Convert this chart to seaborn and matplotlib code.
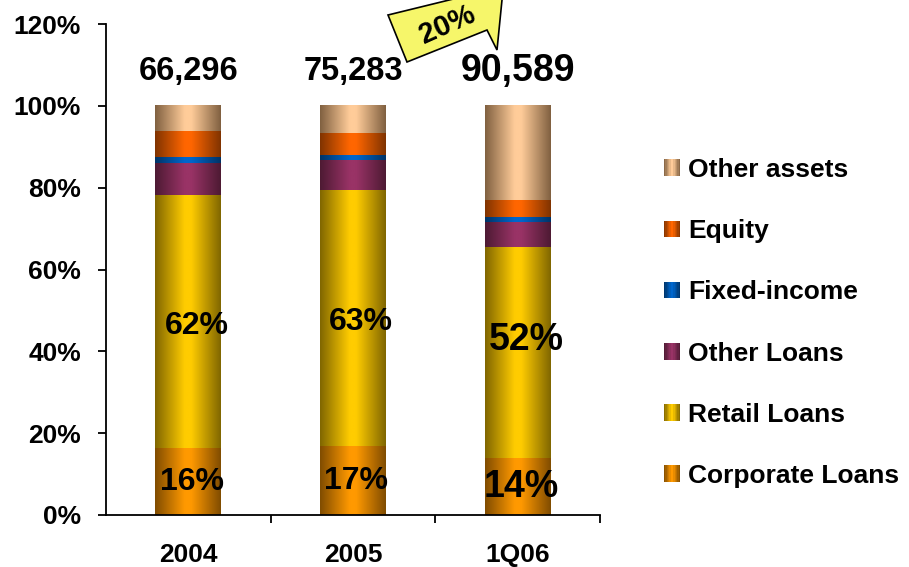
import matplotlib
matplotlib.use('Agg')
import matplotlib.pyplot as plt
import numpy as np
import seaborn as sns
from matplotlib.colors import LinearSegmentedColormap
from matplotlib.legend_handler import HandlerBase
from matplotlib.patches import Rectangle, Polygon

# data (share of total assets, %)
periods = ['2004', '2005', '1Q06']
totals = ['66,296', '75,283', '90,589']
corporate = [16.3, 16.8, 13.9]
retail = [61.7, 62.5, 51.5]
other_loans = [7.9, 7.3, 6.1]
fixed_income = [1.4, 1.2, 1.3]
equity = [6.4, 5.4, 4.0]
other_assets = [6.3, 6.8, 23.2]
retail_lbl = ['62%', '63%', '52%']
corp_lbl = ['16%', '17%', '14%']

# bottom -> top
series = [('Corporate Loans', corporate, '#804c00', '#ff9900'),
          ('Retail Loans', retail, '#806600', '#ffcc00'),
          ('Other Loans', other_loans, '#4d1a33', '#993366'),
          ('Fixed-income', fixed_income, '#003366', '#0066cc'),
          ('Equity', equity, '#803300', '#ff6600'),
          ('Other assets', other_assets, '#806040', '#ffcc99')]

sns.set_style('white')
plt.rcParams['font.family'] = ['Liberation Sans', 'DejaVu Sans']
plt.rcParams['font.weight'] = 'bold'
plt.rcParams['text.color'] = 'black'
plt.rcParams['xtick.color'] = 'black'
plt.rcParams['ytick.color'] = 'black'

fig = plt.figure(figsize=(9.09, 5.67), dpi=100)
ax = fig.add_axes([106/909, 1-515/567, (600-106)/909, (515-24)/567])


def grad_cmap(dark, light):
    return LinearSegmentedColormap.from_list('g', [(0, dark), (0.45, light), (0.55, light), (1, dark)])


cum = np.zeros(len(periods))
cums = []
for name, vals, dark, light in series:
    cum = cum + np.array(vals)
    cums.append((name, cum.copy(), dark, light))

grad = np.linspace(0, 1, 256).reshape(1, -1)
# draw tallest first, shorter stacked totals on top
for i, (name, c, dark, light) in enumerate(reversed(cums)):
    sns.barplot(x=periods, y=c, order=periods, color=light, width=0.4, saturation=1, ax=ax)
    for p in ax.containers[-1]:
        x0, w, h = p.get_x(), p.get_width(), p.get_height()
        ax.imshow(grad, cmap=grad_cmap(dark, light), extent=[x0, x0 + w, 0, h],
                  aspect='auto', interpolation='bilinear', zorder=2 + i * 0.1)
        p.set_visible(False)

ax.set_xlim(-0.5, 2.5)
ax.set_ylim(0, 120)
ax.set_yticks(range(0, 121, 20))
ax.set_yticklabels(['%d%%' % v for v in range(0, 121, 20)])
ax.set_xticks(range(len(periods)))
ax.set_xticklabels(periods)
ax.set_xticks([0.5, 1.5, 2.5], minor=True)
ax.tick_params(axis='x', which='major', bottom=True, length=0, pad=20, labelsize=19)
ax.tick_params(axis='x', which='minor', bottom=True, length=6, width=1.3, direction='out')
ax.tick_params(axis='y', left=True, length=6, width=1.3, direction='out', pad=12, labelsize=19)
ax.set_xlabel('')
for s in ['top', 'right']:
    ax.spines[s].set_visible(False)
for s in ['left', 'bottom']:
    ax.spines[s].set_color('black')
    ax.spines[s].set_linewidth(1.3)

# labels
for j in range(len(periods)):
    big = j == 2
    ax.text(j, 108.5, totals[j], ha='center', va='center', fontsize=27 if big else 23.5, fontweight='bold')
    yr = corporate[j] + retail[j] / 2 + (3 if big else -1)
    ax.text(j + 0.05, yr, retail_lbl[j], ha='center', va='center', fontsize=27 if big else 23,
            fontweight='bold', zorder=5)
    ax.text(j + 0.02, corporate[j] / 2, corp_lbl[j], ha='center', va='center',
            fontsize=27 if big else 23, fontweight='bold', zorder=5)


# legend with gradient swatches
class GradHandle:
    def __init__(self, cmap):
        self.cmap = cmap


class GradHandler(HandlerBase):
    def create_artists(self, legend, orig_handle, xdescent, ydescent, width, height, fontsize, trans):
        n = 12
        arts = []
        for k in range(n):
            arts.append(Rectangle((-xdescent + k * width / n, -ydescent), width / n, height,
                                  facecolor=orig_handle.cmap((k + 0.5) / n), edgecolor='none',
                                  transform=trans))
        return arts


handles = [GradHandle(grad_cmap(d, l)) for _, _, d, l in reversed(series)]
labels = [n for n, _, _, _ in reversed(series)]
fig.legend(handles, labels, handler_map={GradHandle: GradHandler()},
           loc='center left', bbox_to_anchor=(664/909, 1-323/567), frameon=False,
           fontsize=19, handlelength=0.6, handleheight=0.6, handletextpad=0.3,
           labelspacing=1.41, borderpad=0, borderaxespad=0)

# growth arrow
pts = [(388, 15), (407, 62), (487, 30), (497, 50), (503, -10), (490, -10)]
arrow = Polygon([(x/909, 1 - y/567) for x, y in pts], closed=True, transform=fig.transFigure,
                facecolor='#f6f66a', edgecolor='black', linewidth=1.2, zorder=10)
fig.add_artist(arrow)
fig.text(447/909, 1 - 25/567, '20%', rotation=24, ha='center', va='center',
         fontsize=21, fontweight='bold', zorder=11)

fig.savefig('out.png', dpi=100)
